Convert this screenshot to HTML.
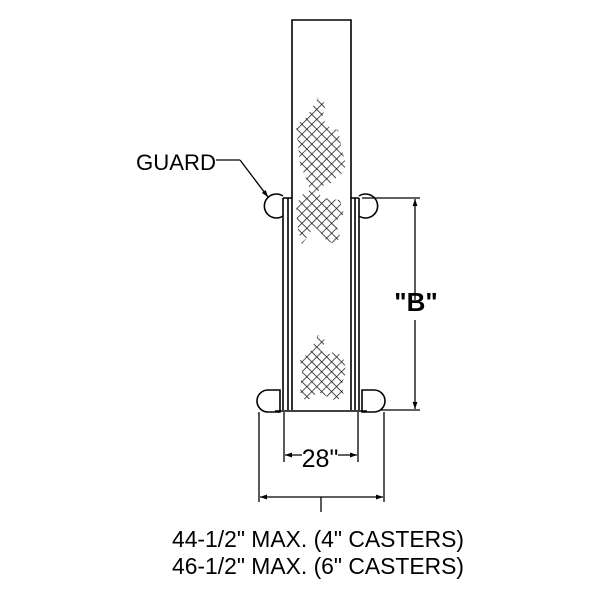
<!DOCTYPE html>
<html><head><style>body{margin:0;background:#fff}svg{display:block}</style></head><body>
<svg width="600" height="600" viewBox="0 0 600 600" xmlns="http://www.w3.org/2000/svg">
<defs>
<pattern id="h" width="7" height="7" patternUnits="userSpaceOnUse" patternTransform="rotate(45)">
<path d="M0 0H7M0 0V7" stroke="#111" stroke-width="1.4" fill="none"/>
</pattern>
<marker id="a" viewBox="0 0 10 10" refX="10" refY="5" markerWidth="14" markerHeight="7" markerUnits="userSpaceOnUse" orient="auto-start-reverse"><path d="M0 1.5L10 5L0 8.5z" fill="#000"/></marker>
</defs>
<g fill="url(#h)">
<polygon points="318,98 326,104 322,118 330,128 338,130 342,150 346,165 343,172 336,178 330,184 322,186 318,192 322,198 340,200 344,214 335,222 340,236 336,245 326,240 320,232 314,226 308,236 302,244 298,230 296,210 300,196 310,190 306,178 300,165 298,145 296,125 306,118"/>
<polygon points="318,335 325,340 322,352 330,354 336,350 344,360 346,372 342,384 344,398 334,400 326,396 318,392 306,402 300,392 302,372 300,360 310,352"/>
</g>
<g fill="none" stroke="#000" stroke-width="1.6">
<path d="M292 410V20H351V410"/>
<path d="M283 198V410M288 198V410M355 198V410M359 198V410"/>
<path d="M283 198H292M351 198H359"/>
<path d="M275 411H367"/>
<path d="M283 196a12 12 0 1 0 0 20" />
<path d="M359 196a12 12 0 1 1 0 20" />
<path d="M280 390H268a10 10 0 0 0 0 22H280Z"/>
<path d="M362 390H374a10 10 0 0 1 0 22H362Z"/>
</g>
<g fill="none" stroke="#000" stroke-width="1.3">
<path d="M362 198H420M380 410H420"/>
<line x1="415" y1="300" x2="415" y2="199" marker-end="url(#a)"/>
<line x1="415" y1="320" x2="415" y2="409" marker-end="url(#a)"/>
<path d="M284 412V462M358 412V462"/>
<line x1="302" y1="455" x2="285" y2="455" marker-end="url(#a)"/>
<line x1="338" y1="455" x2="357" y2="455" marker-end="url(#a)"/>
<path d="M259 412V502M384 412V502"/>
<line x1="320" y1="497" x2="260" y2="497" marker-end="url(#a)"/>
<line x1="320" y1="497" x2="383" y2="497" marker-end="url(#a)"/>
<path d="M321 497V512"/>
<path d="M216 160H240"/>
<line x1="240" y1="160" x2="268" y2="197" marker-end="url(#a)"/>
</g>
<g font-family="Liberation Sans, sans-serif" fill="#000">
<text x="176" y="170" font-size="22" text-anchor="middle" textLength="80" lengthAdjust="spacingAndGlyphs">GUARD</text>
<text x="416" y="311" font-size="26" font-weight="bold" text-anchor="middle">"B"</text>
<text x="320" y="467" font-size="25" text-anchor="middle">28"</text>
<text x="318" y="547" font-size="23" text-anchor="middle" textLength="292" lengthAdjust="spacingAndGlyphs">44-1/2" MAX. (4" CASTERS)</text>
<text x="318" y="574" font-size="23" text-anchor="middle" textLength="292" lengthAdjust="spacingAndGlyphs">46-1/2" MAX. (6" CASTERS)</text>
</g>
</svg>
</body></html>
